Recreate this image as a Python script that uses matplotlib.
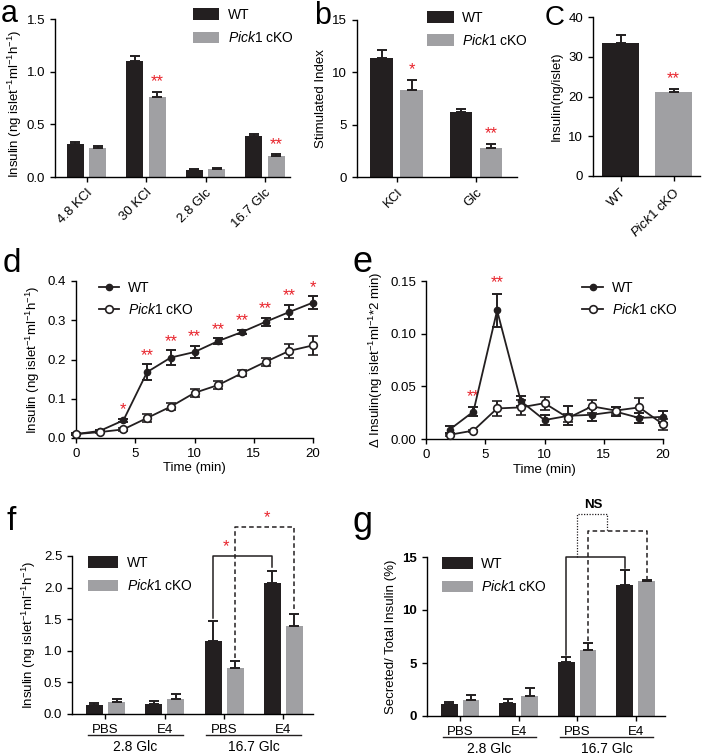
import matplotlib
matplotlib.use('Agg')
import matplotlib.pyplot as plt
from matplotlib.lines import Line2D
import numpy as np

plt.rcParams['font.family'] = ['Liberation Sans', 'DejaVu Sans']
plt.rcParams['mathtext.fontset'] = 'custom'
plt.rcParams['mathtext.rm'] = 'Liberation Sans'
plt.rcParams['mathtext.it'] = 'Liberation Sans:italic'
plt.rcParams['mathtext.default'] = 'regular'
plt.rcParams['font.size'] = 9.5
plt.rcParams['axes.labelsize'] = 9.5
plt.rcParams['xtick.labelsize'] = 9.5
plt.rcParams['ytick.labelsize'] = 9.5
plt.rcParams['axes.linewidth'] = 1.0
plt.rcParams['xtick.major.width'] = 1.0
plt.rcParams['ytick.major.width'] = 1.0
plt.rcParams['xtick.major.size'] = 3.5
plt.rcParams['ytick.major.size'] = 3.5

BLACK = '#231f20'
GREY = '#a0a0a3'
RED = '#e8232b'
KO = r'$\mathit{Pick1}$ cKO'
INS_LABEL = r'Insulin (ng islet$^{-1}$ml$^{-1}$h$^{-1}$)'
STAR_FS = 12
LEG_FS = 10

# ---- data ----
# a: insulin secretion by stimulus
a_cats = ['4.8 KCl', '30 KCl', '2.8 Glc', '16.7 Glc']
a_wt = [0.31, 1.10, 0.07, 0.39]
a_wt_err = [0.02, 0.05, 0.01, 0.02]
a_ko = [0.28, 0.76, 0.08, 0.20]
a_ko_err = [0.01, 0.05, 0.01, 0.015]
a_stars = ['', '**', '', '**']

# b: stimulated index
b_cats = ['KCl', 'Glc']
b_wt = [11.4, 6.2]
b_wt_err = [0.7, 0.3]
b_ko = [8.3, 2.8]
b_ko_err = [1.0, 0.4]
b_stars = ['*', '**']

# c: insulin content
c_cats = ['WT', KO]
c_vals = [33.5, 21.2]
c_err = [2.0, 0.8]

# d: cumulative secretion
d_time = [0, 2, 4, 6, 8, 10, 12, 14, 16, 18, 20]
d_wt = [0.010, 0.018, 0.045, 0.168, 0.205, 0.219, 0.247, 0.270, 0.296, 0.321, 0.345]
d_wt_err = [0.002, 0.003, 0.004, 0.020, 0.018, 0.016, 0.007, 0.006, 0.010, 0.018, 0.016]
d_ko = [0.010, 0.015, 0.022, 0.051, 0.080, 0.115, 0.135, 0.165, 0.194, 0.222, 0.236]
d_ko_err = [0.003, 0.003, 0.004, 0.010, 0.008, 0.010, 0.010, 0.008, 0.010, 0.017, 0.024]
d_stars = ['', '', '*', '**', '**', '**', '**', '**', '**', '**', '*']

# e: secretion per 2 min
e_time = [2, 4, 6, 8, 10, 12, 14, 16, 18, 20]
e_wt = [0.009, 0.026, 0.122, 0.036, 0.018, 0.022, 0.023, 0.026, 0.020, 0.021]
e_wt_err = [0.003, 0.004, 0.016, 0.005, 0.005, 0.009, 0.006, 0.004, 0.005, 0.006]
e_ko = [0.004, 0.008, 0.029, 0.030, 0.034, 0.020, 0.031, 0.027, 0.030, 0.014]
e_ko_err = [0.001, 0.001, 0.007, 0.007, 0.006, 0.004, 0.006, 0.003, 0.009, 0.005]
e_stars = ['', '**', '**', '', '', '', '', '', '', '']

# f, g: PBS / E4 at 2.8 and 16.7 Glc
fg_cats = ['PBS', 'E4', 'PBS', 'E4']
fg_groups = ['2.8 Glc', '16.7 Glc']
f_wt = [0.15, 0.16, 1.15, 2.07]
f_wt_err = [0.03, 0.04, 0.32, 0.20]
f_ko = [0.19, 0.23, 0.72, 1.40]
f_ko_err = [0.04, 0.08, 0.12, 0.19]
g_wt = [1.1, 1.2, 5.1, 12.4]
g_wt_err = [0.2, 0.4, 0.5, 1.4]
g_ko = [1.5, 1.9, 6.2, 12.7]
g_ko_err = [0.5, 0.7, 0.7, 0.1]

W, H = 702, 755
fig = plt.figure(figsize=(W / 100, H / 100), dpi=100)


def add_ax(left, top, right, bottom):
    ax = fig.add_axes([left / W, 1 - bottom / H, (right - left) / W, (bottom - top) / H])
    ax.spines['top'].set_visible(False)
    ax.spines['right'].set_visible(False)
    return ax


def up_err(err):
    return [np.zeros(len(err)), err]


EKW = dict(capsize=3.5, elinewidth=1.4, capthick=1.4, ecolor=BLACK)


def paired_bars(ax, wt, wt_err, ko, ko_err, width=0.285, off=0.186):
    x = np.arange(len(wt))
    ax.bar(x - off, wt, width, color=BLACK, yerr=up_err(wt_err), error_kw=EKW, label='WT')
    ax.bar(x + off, ko, width, color=GREY, yerr=up_err(ko_err), error_kw=EKW, label=KO)
    ax.set_xticks(x)
    return x, off


def bar_legend(ax, anchor, hl=1.9):
    ax.legend(loc='upper left', bbox_to_anchor=anchor, frameon=False, borderpad=0, borderaxespad=0,
              handlelength=hl, handleheight=0.9, handletextpad=0.6, labelspacing=0.6, fontsize=LEG_FS)


def panel_letter(x, y, s, size=22):
    fig.text(x / W, 1 - y / H, s, fontsize=size, va='center', ha='left')


# ---- a ----
ax = add_ax(55, 19, 290, 177)
x, off = paired_bars(ax, a_wt, a_wt_err, a_ko, a_ko_err)
ax.set_xticklabels(a_cats, rotation=45, ha='right', rotation_mode='anchor')
ax.set_xlim(-0.53, 3.42)
ax.set_ylim(0, 1.5)
ax.set_yticks([0, 0.5, 1.0, 1.5])
ax.set_yticklabels(['0.0', '0.5', '1.0', '1.5'])
ax.set_ylabel(INS_LABEL)
ax.yaxis.set_label_coords(-0.13, 0.465)
for i, s in enumerate(a_stars):
    if s:
        ax.text(x[i] + off, a_ko[i] + a_ko_err[i] + 0.02, s, color=RED, ha='center', va='bottom', fontsize=STAR_FS)
bar_legend(ax, (0.587, 1.07))
panel_letter(1, 14, 'a', 22)

# ---- b ----
ax = add_ax(357, 20, 517, 177)
x, off = paired_bars(ax, b_wt, b_wt_err, b_ko, b_ko_err, width=0.283, off=0.19)
ax.set_xticklabels(b_cats, rotation=45, ha='right', rotation_mode='anchor')
ax.set_xlim(-0.5, 1.52)
ax.set_ylim(0, 15)
ax.set_yticks([0, 5, 10, 15])
ax.set_ylabel('Stimulated Index')
for i, s in enumerate(b_stars):
    ax.text(x[i] + off, b_ko[i] + b_ko_err[i] + 0.2, s, color=RED, ha='center', va='bottom', fontsize=STAR_FS)
bar_legend(ax, (0.44, 1.06))
panel_letter(314, 16, 'b', 22)

# ---- c ----
ax = add_ax(593, 17, 700, 176)
xc = np.arange(len(c_vals))
ax.bar(xc, c_vals, 0.7, color=[BLACK, GREY], yerr=up_err(c_err), error_kw=EKW)
ax.set_xticks(xc)
ax.set_xticklabels(c_cats, rotation=45, ha='right', rotation_mode='anchor')
ax.set_xlim(-0.52, 1.5)
ax.set_ylim(0, 40)
ax.set_yticks([0, 10, 20, 30, 40])
ax.set_ylabel('Insulin(ng/islet)')
ax.text(xc[1], c_vals[1] + c_err[1] + 0.6, '**', color=RED, ha='center', va='bottom', fontsize=STAR_FS)
panel_letter(545, 18, 'C', 20)


# ---- d / e line panels ----
def line_panel(ax, t, wt, wt_err, ko, ko_err, anchor):
    ax.errorbar(t, wt, yerr=wt_err, color=BLACK, marker='o', ms=4.5, lw=1.3, capsize=3.5, capthick=1.4,
                elinewidth=1.4, clip_on=False, zorder=3)
    ax.errorbar(t, ko, yerr=ko_err, color=BLACK, marker='o', ms=5.5, mfc='white', mew=1.2, lw=1.3,
                capsize=3.5, capthick=1.4, elinewidth=1.4, clip_on=False, zorder=3)
    ax.set_xlim(0, 20)
    ax.set_xticks([0, 5, 10, 15, 20])
    ax.set_xlabel('Time (min)', labelpad=2)
    handles = [Line2D([], [], color=BLACK, marker='o', ms=4.5, lw=1.3),
               Line2D([], [], color=BLACK, marker='o', ms=5.5, mfc='white', mew=1.2, lw=1.3)]
    ax.legend(handles, ['WT', KO], loc='upper left', bbox_to_anchor=anchor, frameon=False, borderpad=0,
              borderaxespad=0, handlelength=1.5, handletextpad=0.6, labelspacing=0.5, fontsize=LEG_FS)


ax = add_ax(76, 281, 313, 438)
line_panel(ax, d_time, d_wt, d_wt_err, d_ko, d_ko_err, (0.095, 1.0))
ax.set_ylim(0, 0.4)
ax.set_yticks([0, 0.1, 0.2, 0.3, 0.4])
ax.set_yticklabels(['0.0', '0.1', '0.2', '0.3', '0.4'])
ax.set_ylabel(INS_LABEL)
for i, s in enumerate(d_stars):
    if s:
        ax.text(d_time[i], d_wt[i] + d_wt_err[i] + 0.004, s, color=RED, ha='center', va='bottom',
                fontsize=STAR_FS)
panel_letter(3, 264, 'd', 24)

ax = add_ax(426, 281, 663, 439)
line_panel(ax, e_time, e_wt, e_wt_err, e_ko, e_ko_err, (0.66, 1.0))
ax.set_ylim(0, 0.15)
ax.set_yticks([0, 0.05, 0.10, 0.15])
ax.set_yticklabels(['0.00', '0.05', '0.10', '0.15'])
ax.set_ylabel(r'$\Delta$ Insulin(ng islet$^{-1}$ml$^{-1}$*2 min)')
for i, s in enumerate(e_stars):
    if s:
        ax.text(e_time[i], e_wt[i] + e_wt_err[i] + 0.003, s, color=RED, ha='center', va='bottom',
                fontsize=STAR_FS)
panel_letter(352, 262, 'e', 26)


# ---- f / g ----
def fg_panel(ax, wt, wt_err, ko, ko_err):
    x, off = paired_bars(ax, wt, wt_err, ko, ko_err, width=0.287, off=0.186)
    ax.set_xticks([0, 1, 2, 3])
    ax.set_xticklabels(fg_cats)
    ax.set_xlim(-0.565, 3.5)
    tr = ax.get_xaxis_transform()
    for k, name in enumerate(fg_groups):
        c = 2 * k + 0.5
        ax.plot([c - 0.8, c + 0.8], [-0.135, -0.135], color=BLACK, lw=1.0, transform=tr, clip_on=False)
        ax.text(c, -0.21, name, transform=tr, ha='center', va='center', fontsize=10)
    bar_legend(ax, (0.065, 1.0), hl=2.2)
    return x, off


ax = add_ax(72, 556, 313, 714)
x, off = fg_panel(ax, f_wt, f_wt_err, f_ko, f_ko_err)
ax.set_ylim(0, 2.5)
ax.set_yticks([0, 0.5, 1.0, 1.5, 2.0, 2.5])
ax.set_yticklabels(['0.0', '0.5', '1.0', '1.5', '2.0', '2.5'])
ax.set_ylabel(INS_LABEL)
ax.plot([2 - off, 2 - off, 3 - off, 3 - off], [1.52, 2.5, 2.5, 2.33], color=BLACK, lw=1.1, clip_on=False)
ax.plot([2 + off, 2 + off, 3 + off, 3 + off], [0.88, 2.96, 2.96, 1.64], color=BLACK, lw=1.1, ls=(0, (3, 2)),
        clip_on=False)
ax.text(2.03, 2.53, '*', color=RED, ha='center', va='bottom', fontsize=STAR_FS, clip_on=False)
ax.text(2.72, 2.99, '*', color=RED, ha='center', va='bottom', fontsize=STAR_FS, clip_on=False)
panel_letter(6, 522, 'f', 24)

ax = add_ax(427, 557, 665, 716)
x, off = fg_panel(ax, g_wt, g_wt_err, g_ko, g_ko_err)
ax.set_ylim(0, 15)
ax.set_yticks([0, 5, 10, 15])
ax.set_yticklabels(['0', '5', '10', '15'], fontweight='bold')
ax.set_ylabel('Secreted/ Total Insulin (%)')
ax.plot([2 - off, 2 - off, 3 - off, 3 - off], [5.8, 15.0, 15.0, 14.0], color=BLACK, lw=1.1, clip_on=False)
ax.plot([2 + off, 2 + off, 3 + off, 3 + off], [7.1, 17.45, 17.45, 12.95], color=BLACK, lw=1.1,
        ls=(0, (3, 2)), clip_on=False)
ax.plot([2.0, 2.0, 2.51, 2.51], [15.0, 19.1, 19.1, 17.45], color=BLACK, lw=0.9, ls=(0, (1, 1.2)),
        clip_on=False)
ax.text(2.27, 19.3, 'NS', ha='center', va='bottom', fontsize=9.5, fontweight='bold', clip_on=False)
panel_letter(352, 522, 'g', 26)

fig.savefig('out.png', dpi=100)
